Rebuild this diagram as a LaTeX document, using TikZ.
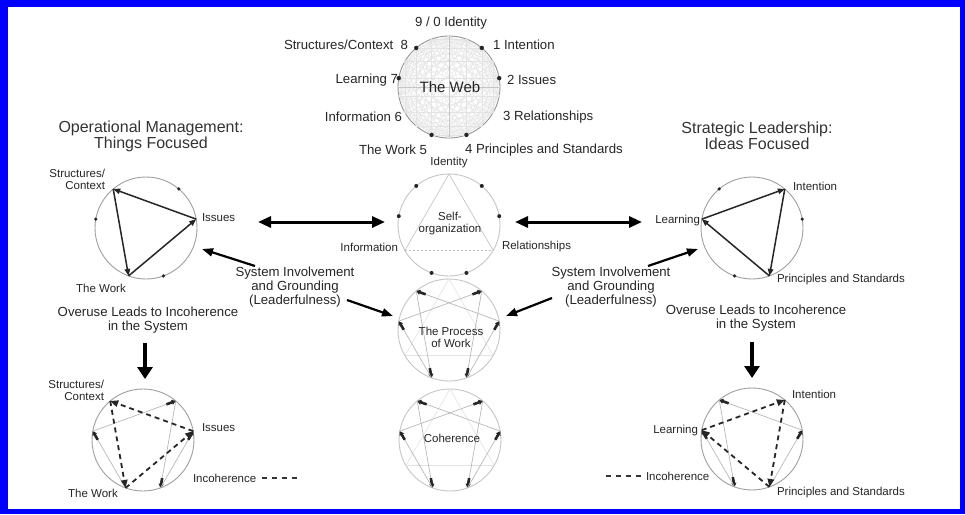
\documentclass[tikz,border=0pt]{standalone}
\usepackage{fontspec}
\setmainfont{Liberation Sans}
\usetikzlibrary{arrows.meta,calc}
\newcommand\hexmark[2]{\draw[markarrow] ($(#2)!10pt!(#1)$) -- (#2);}
\begin{document}
\begin{tikzpicture}[x=1pt,y=-1pt,
  every node/.style={inner sep=0pt, outer sep=0pt},
  ring/.style={circle, draw=gray!75, line width=0.9pt, minimum size=102pt},
  lab/.style={font=\fontsize{13.2}{14}\selectfont, text=black!85, align=center},
  sml/.style={font=\fontsize{11.5}{12}\selectfont, text=black!85},
  ttl/.style={font=\fontsize{16}{16}\selectfont, text=black!80, align=center},
  triarrow/.style={line width=1.5pt, draw=black!85, -{Triangle[length=7pt,width=5.5pt]}},
  dasharrow/.style={line width=1.8pt, draw=black!85, dash pattern=on 5pt off 4pt, -{Triangle[length=8pt,width=6.5pt]}},
  bigarrow/.style={line width=3pt, draw=black, {Triangle[length=13pt,width=11pt]}-{Triangle[length=13pt,width=11pt]}},
  onearrow/.style={line width=2.2pt, draw=black, -{Triangle[length=11pt,width=8pt]}},
  downarrow/.style={line width=4.5pt, draw=black, -{Triangle[length=12pt,width=15pt]}},
  hexline/.style={draw=gray!55, line width=0.7pt},
  faintline/.style={draw=gray!35, line width=0.6pt},
  webline/.style={draw=gray!22, line width=0.4pt},
  markarrow/.style={line width=2.6pt, draw=black!85, -{Triangle[length=4pt,width=5pt]}},
]
\useasboundingbox (0,0) rectangle (965,514);
% frame
\fill[blue] (0,0) rectangle (965,514);
\fill[white] (8,7) rectangle (960,509);

% ---------------- The Web ----------------
\node[ring, draw=gray!85] (W) at (449,87) {};
\foreach \i in {0,...,17}{
  \foreach \s in {2,3,4,5,6,7,8}{
    \pgfmathtruncatemacro\aa{mod(20*\i+10,360)}
    \pgfmathtruncatemacro\bb{mod(20*(\i+\s)+10,360)}
    \draw[webline] (W.\aa) -- (W.\bb);
  }
}
\draw[webline, draw=gray!45] (W.180) -- (W.0);
\draw[webline, draw=gray!45] (W.90) -- (W.-90);
\foreach \a in {130,50,170,10,-110,-70} \fill[black!85] (W.\a) circle (2.2pt);
\node[font=\fontsize{15}{15}\selectfont, text=black!85] (webt) at (450,87) {The Web};
\node[lab] (w0) at (451,23) {9 / 0 Identity};
\node[lab, anchor=east] (w8) at (408,45) {Structures/Context\ \ 8};
\node[lab, anchor=west] (w1) at (493,45) {1 Intention};
\node[lab, anchor=east] (w7) at (398,80) {Learning 7};
\node[lab, anchor=west] (w2) at (507,80) {2 Issues};
\node[lab, anchor=east] (w6) at (402,117) {Information 6};
\node[lab, anchor=west] (w3) at (503,117) {3 Relationships};
\node[lab, anchor=east] (w5) at (427,150) {The Work 5};
\node[lab, anchor=west] (w4) at (465,150) {4 Principles and Standards};

% ---------------- Self-organization ----------------
\node[ring, draw=gray!45] (S) at (449,225) {};
\draw[faintline, draw=gray!50] (S.-150) -- (S.90) -- (S.-30);
\draw[faintline, draw=gray!50, dash pattern=on 2pt off 2pt] (S.-150) -- (S.-30);
\foreach \a in {130,50,170,10,-110,-70} \fill[black!85] (S.\a) circle (2pt);
\node[sml] (sid) at (449,163) {Identity};
\node[sml, align=center] (st) at (450,224) {Self-\\organization};
\node[sml, anchor=east] (sinf) at (398,247) {Information};
\node[sml, anchor=west] (srel) at (502,247) {Relationships};

% ---------------- Process of Work / Coherence ----------------
\node[ring, draw=gray!45] (P) at (449,330) {};
\node[ring, draw=gray!45] (C) at (450,440) {};
\foreach \c in {P,C}{
  \draw[faintline, draw=gray!22] (\c.-150) -- (\c.90) -- (\c.-30) -- cycle;
  \foreach \f/\t in {50/-70,-70/10,10/130,130/-110,-110/170,170/50}{
    \draw[hexline] (\c.\f) -- (\c.\t);
    \hexmark{\c.\f}{\c.\t}
  }
}
\node[sml, align=center] (pt) at (451,337) {The Process\\of Work};
\node[sml] (ct) at (452,438) {Coherence};

% ---------------- Operational management (top left) ----------------
\node[ttl] (tl) at (151,136) {Operational Management:\\Things Focused};
\node[ring] (L) at (146,228) {};
\draw[triarrow] (L.10) -- (L.130);
\draw[triarrow] (L.130) -- (L.-110);
\draw[triarrow] (L.-110) -- (L.10);
\foreach \a in {50,170,-70} \fill[black!85] (L.\a) circle (1.8pt);
\node[sml, anchor=east, align=right] (l8) at (105,179) {Structures/\\Context};
\node[sml, anchor=west] (l2) at (202,218) {Issues};
\node[sml] (l5) at (101,288) {The Work};

% ---------------- Strategic leadership (top right) ----------------
\node[ttl] (tr) at (757,136) {Strategic Leadership:\\Ideas Focused};
\node[ring] (R) at (752,228) {};
\draw[triarrow] (R.170) -- (R.50);
\draw[triarrow] (R.50) -- (R.-70);
\draw[triarrow] (R.-70) -- (R.170);
\foreach \a in {130,10,-110} \fill[black!85] (R.\a) circle (1.8pt);
\node[sml, anchor=west] (r1) at (793,186) {Intention};
\node[sml, anchor=east] (r7) at (700,221) {Learning};
\node[sml, anchor=west] (r4) at (777,280) {Principles and Standards};

% ---------------- big double arrows ----------------
\coordinate (ba1) at (258,222); \coordinate (ba2) at (385,222);
\coordinate (ba3) at (515,222); \coordinate (ba4) at (642,222);
\draw[bigarrow] (ba1) -- (ba2);
\draw[bigarrow] (ba3) -- (ba4);

% ---------------- System involvement ----------------
\node[lab] (sysl) at (295,287) {System Involvement\\and Grounding\\(Leaderfulness)};
\node[lab] (sysr) at (611,287) {System Involvement\\and Grounding\\(Leaderfulness)};
\coordinate (al1) at (255,266); \coordinate (al2) at (202,249);
\coordinate (al3) at (347,300); \coordinate (al4) at (393,316);
\coordinate (ar1) at (648,266); \coordinate (ar2) at (698,249);
\coordinate (ar3) at (552,298); \coordinate (ar4) at (506,316);
\draw[onearrow] (al1) -- (al2);
\draw[onearrow] (al3) -- (al4);
\draw[onearrow] (ar1) -- (ar2);
\draw[onearrow] (ar3) -- (ar4);

% ---------------- Overuse ----------------
\node[lab] (ovl) at (148,320) {Overuse Leads to Incoherence\\in the System};
\node[lab] (ovr) at (756,318) {Overuse Leads to Incoherence\\in the System};
\coordinate (dl1) at (145,343); \coordinate (dl2) at (145,379);
\coordinate (dr1) at (752,342); \coordinate (dr2) at (752,378);
\draw[downarrow] (dl1) -- (dl2);
\draw[downarrow] (dr1) -- (dr2);

% ---------------- bottom left ----------------
\node[ring] (BL) at (143,440) {};
\foreach \f/\t in {50/-70,-70/10,-110/170,170/50}{
  \draw[hexline] (BL.\f) -- (BL.\t);
  \hexmark{BL.\f}{BL.\t}
}
\draw[dasharrow] (BL.10) -- (BL.130);
\draw[dasharrow] (BL.130) -- (BL.-110);
\draw[dasharrow] (BL.-110) -- (BL.10);
\node[sml, anchor=east, align=right] (bl8) at (104,390) {Structures/\\Context};
\node[sml, anchor=west] (bl2) at (202,428) {Issues};
\node[sml] (bl5) at (93,493) {The Work};
\node[sml, anchor=west] (bli) at (193,478) {Incoherence};
\coordinate (bld) at (300,478);
\draw[line width=1.3pt, dash pattern=on 5pt off 5pt, black!80] ([xshift=6pt]bli.east) -- (bld);

% ---------------- bottom right ----------------
\node[ring] (BR) at (752,439) {};
\foreach \f/\t in {-70/10,10/130,130/-110,-110/170}{
  \draw[hexline] (BR.\f) -- (BR.\t);
  \hexmark{BR.\f}{BR.\t}
}
\draw[dasharrow] (BR.170) -- (BR.50);
\draw[dasharrow] (BR.50) -- (BR.-70);
\draw[dasharrow] (BR.-70) -- (BR.170);
\node[sml, anchor=west] (br1) at (792,394) {Intention};
\node[sml, anchor=east] (br7) at (698,431) {Learning};
\node[sml, anchor=west] (br4) at (777,493) {Principles and Standards};
\node[sml, anchor=west] (bri) at (646,476) {Incoherence};
\coordinate (brd) at (606,476);
\draw[line width=1.3pt, dash pattern=on 5pt off 5pt, black!80] (brd) -- ([xshift=-4pt]bri.west);
\end{tikzpicture}
\end{document}
